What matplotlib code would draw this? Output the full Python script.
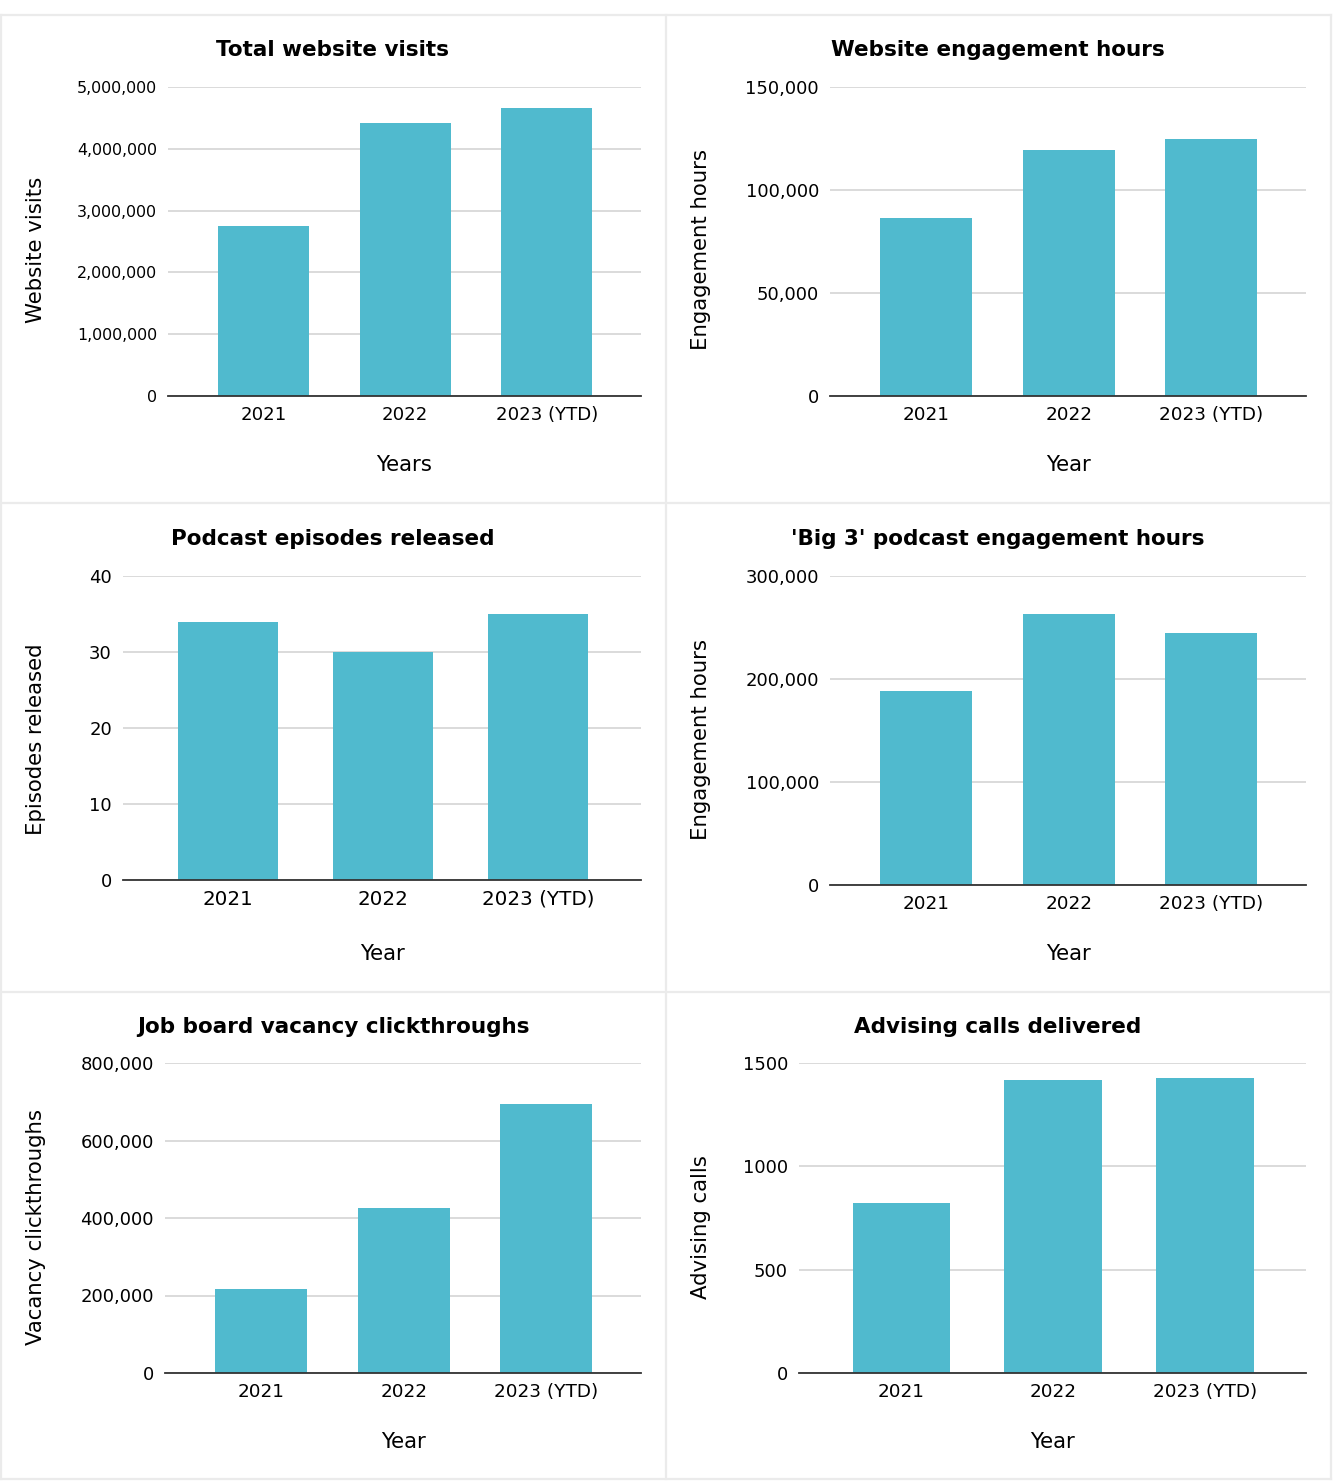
import matplotlib.pyplot as plt
from matplotlib.ticker import FuncFormatter

plt.rcParams['font.family'] = ['DejaVu Sans']

years = ['2021', '2022', '2023 (YTD)']

visits = [2750000, 4420000, 4660000]
web_hours = [86400, 119400, 124800]
episodes = [34, 30, 35]
podcast_hours = [188000, 263000, 245000]
clickthroughs = [217000, 426000, 694000]
advising_calls = [823, 1418, 1427]

titles = ['Total website visits', 'Website engagement hours',
          'Podcast episodes released', "'Big 3' podcast engagement hours",
          'Job board vacancy clickthroughs', 'Advising calls delivered']
ylabels = ['Website visits', 'Engagement hours', 'Episodes released',
           'Engagement hours', 'Vacancy clickthroughs', 'Advising calls']
xlabels = ['Years', 'Year', 'Year', 'Year', 'Year', 'Year']
yticks = [[0, 1000000, 2000000, 3000000, 4000000, 5000000],
          [0, 50000, 100000, 150000],
          [0, 10, 20, 30, 40],
          [0, 100000, 200000, 300000],
          [0, 200000, 400000, 600000, 800000],
          [0, 500, 1000, 1500]]
use_commas = [True, True, False, True, True, False]
series = [visits, web_hours, episodes, podcast_hours, clickthroughs, advising_calls]

W, H = 1334, 1482
BAR = '#50BACE'

fig = plt.figure(figsize=(W / 100, H / 100), dpi=100)
fig.patch.set_facecolor('white')

# pixel boxes for each axes: left, top, right, bottom
boxes = [(168, 87, 641, 396), (830, 87, 1306, 396),
         (123, 576, 641, 880), (830, 576, 1306, 885),
         (165, 1063, 641, 1373), (799, 1063, 1306, 1373)]
title_y = [50, 50, 539, 539, 1027, 1027]
xlab_y = [465, 465, 954, 954, 1442, 1442]
ylab_x = [36, 701, 36, 701, 36, 701]
ylab_y = [250, 250, 739, 739, 1227, 1227]
panel_cx = [333, 998, 333, 998, 333, 998]
xtick_size = [13.1, 13.2, 14.3, 13.2, 13.2, 13.2]
ytick_size = [11.4, 13, 13, 13, 13, 13]

# panel borders (the spreadsheet cells)
for yy in [15, 503, 992, 1479]:
    fig.add_artist(plt.Line2D([0, 1331 / W], [1 - yy / H] * 2, color='#ebebeb', lw=1.6,
                              transform=fig.transFigure))
for xx in [1, 666, 1331]:
    fig.add_artist(plt.Line2D([xx / W] * 2, [1 - 15 / H, 1 - 1479 / H], color='#ebebeb', lw=1.6,
                              transform=fig.transFigure))


def fmt_comma(v, pos):
    return f'{int(v):,}'


for i in range(6):
    l, t, r, b = boxes[i]
    ax = fig.add_axes([l / W, 1 - b / H, (r - l) / W, (b - t) / H])
    ax.bar(range(3), series[i], width=0.645, color=BAR, zorder=3)
    ax.set_xlim(-0.675, 2.665)
    ax.set_ylim(0, yticks[i][-1])
    ax.set_yticks(yticks[i])
    if use_commas[i]:
        ax.yaxis.set_major_formatter(FuncFormatter(fmt_comma))
    ax.set_xticks(range(3))
    ax.set_xticklabels(years, fontsize=xtick_size[i])
    ax.tick_params(axis='y', length=0, pad=8, labelsize=ytick_size[i])
    ax.tick_params(axis='x', length=0, pad=7)
    ax.grid(axis='y', color='#d4d4d4', lw=1.2, zorder=0)
    ax.set_axisbelow(True)
    for s in ['top', 'right', 'left']:
        ax.spines[s].set_visible(False)
    ax.spines['bottom'].set_color('#333333')
    ax.spines['bottom'].set_linewidth(1.3)
    ax.spines['bottom'].set_zorder(4)
    ax.set_facecolor('none')

    fig.text(panel_cx[i] / W, 1 - title_y[i] / H, titles[i], fontsize=15.5,
             fontweight='bold', ha='center', va='center')
    fig.text((l + r) / 2 / W, 1 - xlab_y[i] / H, xlabels[i], fontsize=15.3,
             ha='center', va='center')
    fig.text(ylab_x[i] / W, 1 - ylab_y[i] / H, ylabels[i], fontsize=15.3,
             rotation=90, ha='center', va='center')

fig.savefig('out.png', dpi=100, facecolor='white')
